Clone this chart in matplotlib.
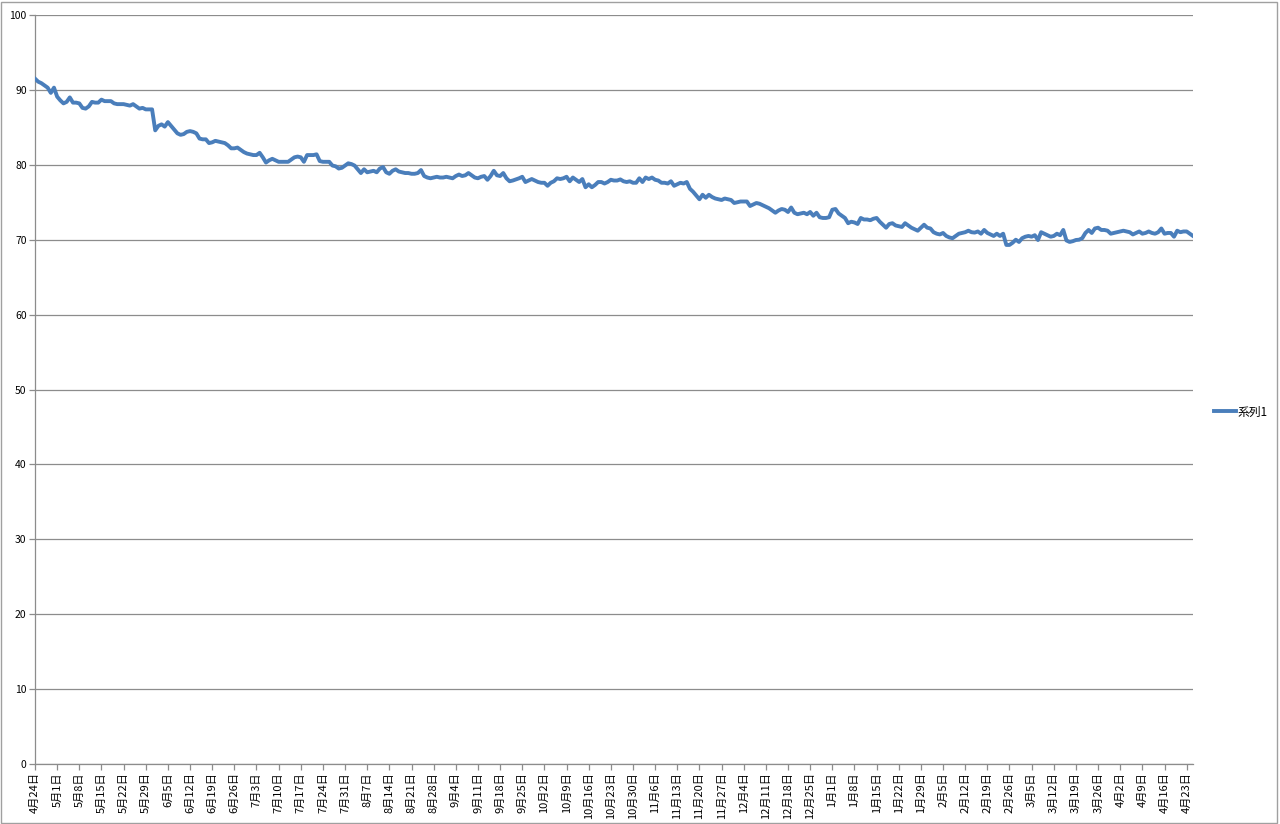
import matplotlib
matplotlib.use("Agg")
import matplotlib.pyplot as plt
import pandas as pd
from matplotlib.patches import Rectangle

plt.rcParams['font.family'] = ['Noto Sans CJK JP', 'DejaVu Sans']

# categories: daily dates
dates = pd.date_range("2013-04-24", "2014-04-25", freq="D")
categories = [f"{d.month}月{d.day}日" for d in dates]

series_name = "系列1"
values = [
    91.5, 91.1, 90.9, 90.6, 90.3, 89.6, 90.3, 89.1, 88.6, 88.2,
    88.4, 89.0, 88.3, 88.3, 88.2, 87.6, 87.5, 87.8, 88.4, 88.3,
    88.3, 88.7, 88.5, 88.5, 88.5, 88.2, 88.1, 88.1, 88.1, 88.0,
    87.9, 88.1, 87.8, 87.5, 87.6, 87.4, 87.4, 87.4, 84.6, 85.2,
    85.4, 85.1, 85.7, 85.2, 84.7, 84.2, 84.0, 84.1, 84.4, 84.5,
    84.4, 84.2, 83.5, 83.4, 83.4, 82.9, 83.0, 83.2, 83.1, 83.0,
    82.9, 82.6, 82.2, 82.2, 82.3, 82.0, 81.7, 81.5, 81.4, 81.3,
    81.3, 81.6, 81.0, 80.3, 80.6, 80.8, 80.6, 80.4, 80.4, 80.4,
    80.4, 80.7, 81.0, 81.1, 81.0, 80.4, 81.3, 81.3, 81.3, 81.4,
    80.5, 80.4, 80.4, 80.4, 79.9, 79.8, 79.5, 79.6, 79.9, 80.2,
    80.1, 79.9, 79.4, 78.9, 79.4, 79.0, 79.1, 79.2, 79.0, 79.5,
    79.7, 79.0, 78.8, 79.2, 79.4, 79.1, 79.0, 78.9, 78.9, 78.8,
    78.8, 78.9, 79.3, 78.5, 78.3, 78.2, 78.3, 78.4, 78.3, 78.3,
    78.4, 78.3, 78.2, 78.5, 78.7, 78.5, 78.6, 78.9, 78.6, 78.3,
    78.2, 78.4, 78.5, 78.0, 78.5, 79.2, 78.6, 78.5, 78.9, 78.2,
    77.8, 77.9, 78.05, 78.2, 78.4, 77.7, 77.9, 78.1, 77.9, 77.7,
    77.6, 77.6, 77.2, 77.6, 77.8, 78.2, 78.1, 78.2, 78.4, 77.8,
    78.3, 78.0, 77.7, 78.1, 77.0, 77.4, 77.0, 77.3, 77.7, 77.7,
    77.5, 77.7, 78.0, 77.9, 77.9, 78.05, 77.8, 77.7, 77.8, 77.6,
    77.6, 78.2, 77.7, 78.3, 78.1, 78.3, 78.0, 77.9, 77.6, 77.6,
    77.5, 77.8, 77.2, 77.4, 77.6, 77.5, 77.7, 76.8, 76.4, 75.9,
    75.4, 76.0, 75.6, 76.0, 75.7, 75.5, 75.4, 75.3, 75.5, 75.4,
    75.3, 74.9, 75.0, 75.1, 75.1, 75.1, 74.5, 74.7, 74.9, 74.8,
    74.6, 74.4, 74.2, 73.9, 73.6, 73.9, 74.1, 74.0, 73.7, 74.3,
    73.6, 73.4, 73.5, 73.6, 73.4, 73.7, 73.2, 73.6, 73.0, 72.9,
    72.9, 73.0, 74.0, 74.1, 73.5, 73.2, 72.9, 72.2, 72.4, 72.3,
    72.1, 72.9, 72.7, 72.7, 72.6, 72.8, 72.9, 72.4, 72.0, 71.6,
    72.1, 72.2, 71.9, 71.8, 71.7, 72.2, 71.9, 71.6, 71.4, 71.2,
    71.6, 72.0, 71.6, 71.5, 71.0, 70.8, 70.7, 70.9, 70.5, 70.3,
    70.2, 70.5, 70.8, 70.9, 71.0, 71.2, 71.0, 70.95, 71.1, 70.8,
    71.3, 70.9, 70.7, 70.5, 70.8, 70.5, 70.8, 69.3, 69.3, 69.6,
    70.0, 69.7, 70.2, 70.4, 70.5, 70.4, 70.6, 69.96, 71.0, 70.8,
    70.6, 70.4, 70.5, 70.8, 70.6, 71.3, 69.9, 69.7, 69.8, 69.96,
    70.0, 70.2, 70.9, 71.3, 70.9, 71.5, 71.6, 71.3, 71.3, 71.2,
    70.8, 70.9, 71.0, 71.1, 71.2, 71.1, 71.0, 70.7, 70.9, 71.1,
    70.8, 70.9, 71.1, 70.9, 70.8, 71.0, 71.5, 70.8, 70.9, 70.9,
    70.4, 71.2, 71.0, 71.1, 71.1, 70.8, 70.5,
]

y_ticks = list(range(0, 101, 10))
tick_step = 7

fig = plt.figure(figsize=(12.8, 8.24), dpi=100)
ax = fig.add_axes([35 / 1280, 60 / 824, (1193 - 35) / 1280, (764 - 15) / 824])

x = list(range(len(values)))
ax.plot(x, values, color='#4A7EBB', linewidth=2.8, solid_joinstyle='round',
        label=series_name, zorder=3)

ax.set_xlim(0, len(values) - 1)
ax.set_ylim(0, 100)
ax.set_yticks(y_ticks)
ax.set_yticklabels([str(v) for v in y_ticks])
xt = list(range(0, len(values), tick_step))
ax.set_xticks(xt)
ax.set_xticklabels([categories[i] for i in xt], rotation=90)

ax.grid(axis='y', color='#8c8c8c', linewidth=0.9)
ax.set_axisbelow(True)
for s in ['top', 'right']:
    ax.spines[s].set_visible(False)
for s in ['left', 'bottom']:
    ax.spines[s].set_color('#8c8c8c')
    ax.spines[s].set_linewidth(0.9)
ax.tick_params(axis='both', colors='#8c8c8c', labelcolor='#000000',
               labelsize=7.5, length=4, width=0.9, direction='out', pad=2)
ax.tick_params(axis='x', labelsize=8)

fig.legend(loc='center left', bbox_to_anchor=(1203 / 1280, 0.5), frameon=False,
           fontsize=8.5, handlelength=1.9, handletextpad=0.15)

fig.patches.append(Rectangle((0.0005, 0.001), 0.9975, 0.997, transform=fig.transFigure,
                             fill=False, edgecolor='#a0a0a0', linewidth=1))

fig.savefig("out.png", dpi=100)
